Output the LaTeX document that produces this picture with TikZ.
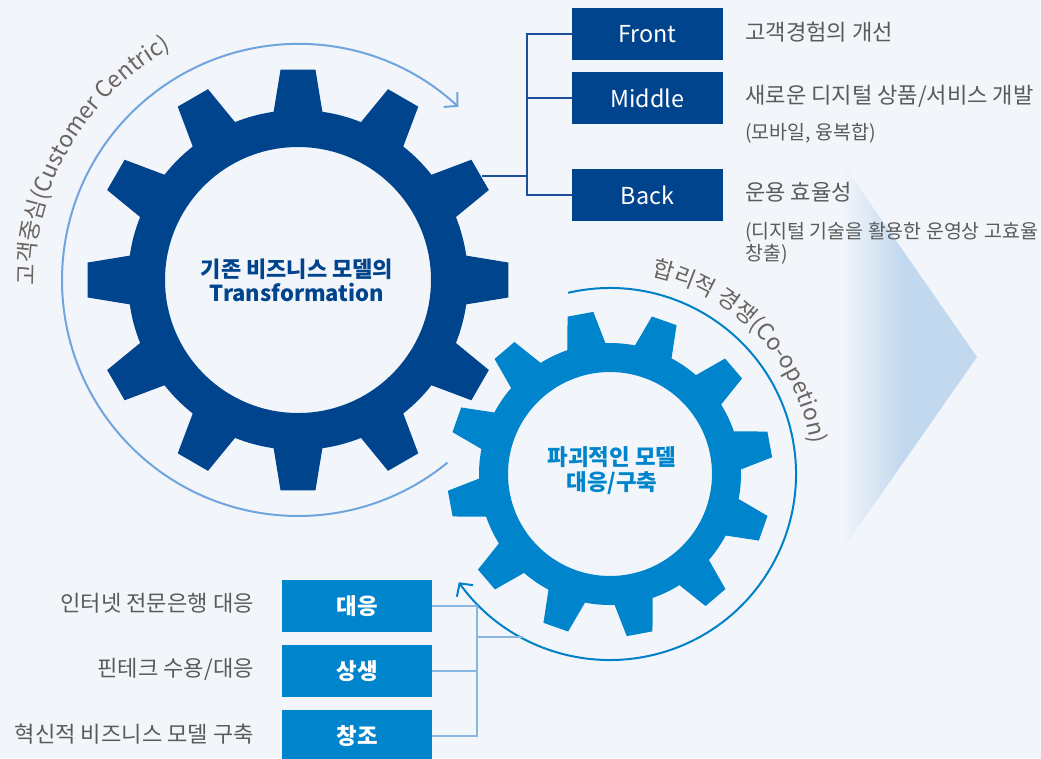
\documentclass[tikz,border=0pt]{standalone}
\usepackage{fontspec}
\setmainfont{Noto Sans CJK KR}
\usetikzlibrary{arrows.meta,decorations.text}
\definecolor{bgc}{HTML}{F2F6FB}
\definecolor{gearA}{HTML}{00448E}
\definecolor{gearB}{HTML}{0084CC}
\definecolor{arcA}{HTML}{6FA5DC}
\definecolor{arcB}{HTML}{0080C8}
\definecolor{txtc}{HTML}{5A5A5A}
\definecolor{curvec}{HTML}{6B645F}
\definecolor{connA}{HTML}{1D4E9A}
\definecolor{connB}{HTML}{8AB6E2}
\definecolor{tric}{HTML}{C2D8EE}
\pgfdeclarehorizontalshading{trishade}{100bp}{color(0bp)=(bgc); color(25bp)=(bgc); color(48bp)=(tric); color(100bp)=(tric)}
\newcommand\cfont{\fontsize{17.2pt}{20pt}\selectfont}
\tikzset{
  bluebox/.style={fill=gearA, text=white, minimum width=113.25pt, minimum height=39pt, inner sep=0pt, font=\fontsize{17.5pt}{19pt}\selectfont},
  cyanbox/.style={fill=gearB, text=white, minimum width=112.5pt, minimum height=39pt, inner sep=0pt, font=\bfseries\fontsize{16.8pt}{19pt}\selectfont},
  desc/.style={text=txtc, inner sep=0pt, anchor=west, font=\fontsize{16.6pt}{19pt}\selectfont},
  subdesc/.style={text=txtc, inner sep=0pt, anchor=west, align=left, font=\fontsize{14.6pt}{16.5pt}\selectfont},
  ldesc/.style={text=txtc, inner sep=0pt, anchor=east, font=\fontsize{16.6pt}{19pt}\selectfont},
  connA/.style={draw=connA, line width=0.9pt},
  connB/.style={draw=connB, line width=1.1pt},
  arrowarc/.style={line width=1.5pt, -{Straight Barb[length=7pt,width=15pt]}},
}
\begin{document}
\begin{tikzpicture}[x=0.75pt,y=-0.75pt]
\useasboundingbox (0,0) rectangle (1041,758);
\fill[bgc] (0,0) rectangle (1041,758);
% gradient triangle
\shade[shading=trishade] (840,160) -- (977,357) -- (840,553) -- cycle;
% big gear
\begin{scope}[shift={(298,280)}]
\fill[gearA,even odd rule]
  (-8.25:170)
  \foreach \i in {0,...,11}{
    -- ({\i*30-8.25}:170) -- ({\i*30-4.75}:211) -- ({\i*30+4.75}:211) -- ({\i*30+8.25}:170)
    arc[start angle={\i*30+8.25}, end angle={\i*30+21.75}, radius=170]
  } -- cycle
  (0,0) circle[radius=133];
\end{scope}
% small gear
\begin{scope}[shift={(610,474)}]
\fill[gearB,even odd rule]
  ({-10.5-8.5}:131)
  \foreach \i in {0,...,11}{
    -- ({\i*30-10.5-8.5}:131) -- ({\i*30-10.5-4.6}:163) -- ({\i*30-10.5+4.6}:163) -- ({\i*30-10.5+8.5}:131)
    arc[start angle={\i*30-10.5+8.5}, end angle={\i*30-10.5+21.5}, radius=131]
  } -- cycle
  (0,0) circle[radius=102];
\end{scope}
% arcs
\draw[arrowarc, draw=arcA] (298,280) ++(50.7:236) arc[start angle=50.7, end angle=312.8, radius=236];
\draw[arrowarc, draw=arcB] (610,474) ++(257:186) arc[start angle=257, end angle=504.4, radius=186];
% curved texts
\path[decorate, decoration={text along path, text color=curvec, text={|\cfont|고객중심(Customer Centric)}}]
  (298,280) ++(178.9:263.5) arc[start angle=178.9, end angle=262, radius=263.5];
\path[decorate, decoration={text along path, text color=curvec, text={|\cfont|합리적 경쟁(Co-opetion)}}]
  (610,474) ++(281.9:202.5) arc[start angle=281.9, end angle=372, radius=202.5];
% gear texts
\node[text=gearA, align=center, font=\bfseries\fontsize{16.5pt}{18pt}\selectfont] (bigT) at (297,280) {기존 비즈니스 모델의\\Transformation};
\node[text=gearB, align=center, font=\bfseries\fontsize{16.8pt}{18.75pt}\selectfont] (smallT) at (612,470.5) {파괴적인 모델\\대응/구축};
% right boxes
\node[bluebox] (front) at (647.5,34) {Front};
\node[bluebox] (middle) at (647.5,98) {Middle};
\node[bluebox] (back) at (647.5,195) {Back};
\node[desc] (d1) at (745,32) {고객경험의 개선};
\node[desc] (d2) at (745,96) {새로운 디지털 상품/서비스 개발};
\node[subdesc] (d2s) at (745,133) {(모바일, 융복합)};
\node[desc] (d3) at (745,192) {운용 효율성};
\node[subdesc] (d3s) at (745,243) {(디지털 기술을 활용한 운영상 고효율\\창출)};
\coordinate (gT) at (482,176);
\coordinate (ja) at (527,176);
\draw[connA] (gT) -- (ja);
\draw[connA] (front.west) -| (ja);
\draw[connA] (middle.west) -| (ja);
\draw[connA] (back.west) -| (ja);
% bottom boxes
\node[cyanbox] (b1) at (357,606) {대응};
\node[cyanbox] (b2) at (357,671) {상생};
\node[cyanbox] (b3) at (357,736) {창조};
\node[ldesc] (l1) at (254,603) {인터넷 전문은행 대응};
\node[ldesc] (l2) at (254,669) {핀테크 수용/대응};
\node[ldesc] (l3) at (254,734) {혁신적 비즈니스 모델 구축};
\coordinate (jb) at (477,637);
\coordinate (arcP) at (523,637);
\draw[connB] (jb) -- (arcP);
\draw[connB] (b1.east) -| (jb);
\draw[connB] (b2.east) -| (jb);
\draw[connB] (b3.east) -| (jb);
\end{tikzpicture}
\end{document}
